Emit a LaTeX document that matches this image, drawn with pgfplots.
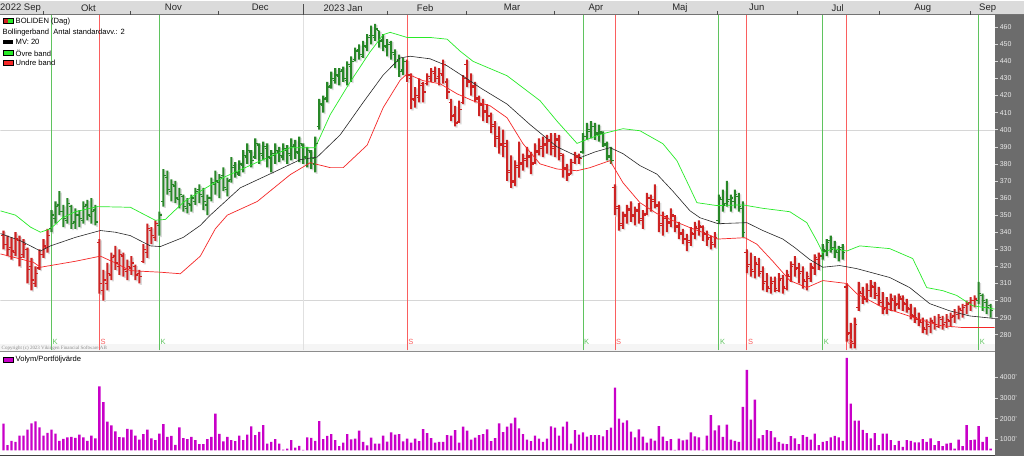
\documentclass[border=0pt]{standalone}
\usepackage{pgfplots}
\usepackage{pgfplotstable}
\pgfplotsset{compat=1.18}
\usepackage{fontspec}
\setmainfont{Liberation Sans}
\newfontfamily\crfont{Liberation Serif}

\definecolor{barGreen}{RGB}{40,135,40}
\definecolor{barRed}{RGB}{205,35,35}
\definecolor{bandGreen}{RGB}{40,235,40}
\definecolor{bandRed}{RGB}{245,40,40}
\definecolor{sigGreen}{RGB}{95,195,95}
\definecolor{sigRed}{RGB}{250,95,95}
\definecolor{volMag}{RGB}{200,0,200}
\definecolor{sideGrey}{RGB}{108,108,108}

% open tick to the left, close tick to the right
\pgfdeclareplotmark{otick}{\pgfpathmoveto{\pgfpoint{-2.6pt}{0pt}}\pgfpathlineto{\pgfpoint{0pt}{0pt}}\pgfusepathqstroke}
\pgfdeclareplotmark{ctick}{\pgfpathmoveto{\pgfpoint{0pt}{0pt}}\pgfpathlineto{\pgfpoint{2.6pt}{0pt}}\pgfusepathqstroke}

\pgfplotsset{
  sidetick/.style={
    axis line style={draw=none}, xtick=\empty,
    ytick pos=right, yticklabel pos=right,
    tick align=outside, major tick length=3.5pt,
    tick style={white!85!black, line width=0.6pt},
    yticklabel style={font=\fontsize{7}{8}\selectfont, text=white!92!black, inner sep=1.5pt},
    /pgf/number format/assume math mode=true,
  },
  pricebox/.style={
    at={(0pt,106pt)}, anchor=south west,
    width=995pt, height=336pt, scale only axis,
    xmin=0, xmax=995, ymin=270.8, ymax=467.3,
  },
  signalmap/.style={
    colormap={signal}{rgb255=(205,35,35) rgb255=(40,135,40)},
    point meta min=0, point meta max=1,
  },
}

% o h l c, s = 1 while the buy signal holds, v = volume
\pgfplotstableread{
o h l c s v
338 341 330 333 0 1757
333 338 326 330 0 722
331 337 324 329 0 931
328 340 326 336 0 883
335 338 320 325 0 1188
327 336 325 333 0 1188
330 331 310 318 0 1477
320 325 306 312 0 1767
310 320 308 316 0 1863
319 330 318 327 0 1574
327 336 325 332 0 1188
331 342 328 338 0 1317
342 353 340 350 1 1477
348 358 345 355 1 1284
356 364 350 352 1 931
352 356 343 348 1 1027
347 360 345 357 1 1092
355 356 342 345 1 1124
346 354 342 350 1 1076
350 353 343 348 1 1236
347 358 345 355 1 1092
356 359 347 350 1 931
349 360 345 352 1 1188
353 356 344 346 1 1044
334 336 304 310 0 3553
306 318 300 312 0 2798
310 322 306 316 0 1853
315 328 312 325 0 1676
326 332 318 322 0 1388
320 330 315 327 0 1108
326 328 314 318 0 1092
317 324 312 320 0 1510
319 326 315 322 0 1477
320 321 312 315 0 1188
316 318 310 314 0 995
323 333 322 330 0 1252
328 345 325 342 0 1477
341 343 333 338 0 1044
337 347 335 345 0 963
344 352 338 350 1 1284
358 377 355 373 1 1734
372 376 362 365 1 1124
364 371 358 368 1 1172
367 370 357 360 1 738
359 366 354 362 1 1574
361 362 352 355 1 1060
354 360 351 357 1 1011
356 362 352 360 1 1124
358 366 356 364 1 963
365 368 357 362 1 770
361 366 353 358 1 770
356 362 350 360 1 1011
360 372 358 369 1 1124
368 376 362 370 1 2247
369 374 360 372 1 1268
373 378 364 366 1 899
365 372 361 370 1 1124
371 384 369 378 1 963
379 381 372 375 1 915
374 382 373 380 1 1188
379 388 375 385 1 963
384 392 380 388 1 1236
387 388 378 382 1 1622
384 395 383 392 1 1204
391 392 380 386 1 1365
385 393 382 390 1 1686
389 392 378 384 1 802
383 388 375 386 1 883
385 392 380 388 1 1011
387 390 381 385 1 802
384 392 382 389 1 513
388 391 380 386 1 561
385 395 382 390 1 963
391 394 383 387 1 609
386 396 381 392 1 690
391 392 380 384 1 497
383 390 378 388 1 1092
387 388 377 383 1 1076
380 396 375 392 1 931
402 418 400 415 1 1879
414 420 410 418 1 1011
419 428 416 425 1 1172
426 434 424 430 1 1252
429 436 427 432 1 963
431 436 426 434 1 674
435 437 428 430 1 843
429 440 426 438 1 1260
437 443 428 440 1 1003
441 448 440 446 1 1035
447 450 441 444 1 1420
443 452 442 449 1 875
448 456 446 454 1 714
455 461 450 455 1 1083
454 462 452 459 1 794
458 458 448 452 1 794
453 456 446 449 1 1180
448 453 443 450 1 891
451 452 441 445 1 1340
444 447 436 440 1 1227
441 444 431 434 1 1260
435 442 432 440 1 907
440 441 428 432 0 1035
430 433 412 418 0 843
417 425 413 420 0 1035
419 430 416 426 0 922
427 428 416 422 0 1500
427 433 426 431 0 1308
430 436 428 434 0 1067
433 437 428 430 0 843
431 436 426 433 0 875
432 441 427 438 0 875
428 430 418 422 0 1212
416 418 405 408 0 1180
409 414 402 404 0 1453
405 417 404 412 0 843
416 432 415 430 0 1613
438 441 425 428 0 1420
429 433 420 425 0 987
426 428 416 419 0 1083
418 420 408 415 0 1212
414 418 405 410 0 1260
411 415 404 408 0 1485
408 410 398 402 0 922
403 405 390 395 0 1067
396 402 386 392 0 1773
391 400 384 390 0 1356
392 394 370 375 0 1613
376 385 366 370 0 1773
369 382 367 378 0 2046
379 393 372 380 0 1533
381 386 376 383 0 1260
382 390 378 384 0 987
385 387 374 380 0 922
381 392 380 388 0 1180
387 395 385 390 0 1035
389 396 384 392 0 875
391 397 386 394 0 1035
393 398 385 389 0 1629
390 398 384 395 0 1565
394 397 382 386 0 1180
385 386 372 378 0 1613
377 380 370 373 0 1854
374 383 374 381 0 794
381 387 380 385 0 1453
384 386 380 383 0 1227
387 398 386 396 1 1340
396 404 394 400 1 1131
399 405 395 402 1 1212
402 404 394 398 1 1212
397 403 393 399 1 1212
398 399 390 392 1 1148
391 393 382 384 1 1453
385 390 380 382 1 1565
366 368 350 355 0 3490
354 356 341 345 0 1998
344 352 342 350 0 1805
349 356 345 353 0 1918
354 358 346 350 0 1372
349 355 344 352 0 1099
353 357 345 348 0 1485
347 353 342 350 0 1131
351 363 350 360 0 843
360 362 352 358 0 1035
359 368 354 356 0 938
355 358 340 345 0 1645
344 352 338 348 0 1131
349 350 340 346 0 922
345 354 343 350 0 1019
349 350 340 344 0 500
343 346 336 340 0 1035
339 342 333 336 0 954
336 339 329 335 0 987
334 343 332 340 0 1340
339 346 336 343 0 1148
342 347 338 344 0 1099
343 344 335 340 0 500
339 341 332 336 0 1180
337 338 330 334 0 2167
333 340 331 337 0 1429
347 362 345 360 1 1670
359 365 352 356 1 1124
357 370 355 358 1 1718
359 362 352 360 1 995
358 365 354 362 1 931
361 363 352 355 1 883
354 358 337 340 1 2568
328 330 316 320 0 4356
321 328 314 318 0 1950
317 326 313 322 0 2911
321 325 314 316 0 1044
317 320 306 310 0 1204
311 316 305 308 0 1445
307 314 304 310 0 1396
311 314 305 307 0 1092
306 316 305 312 0 883
313 315 304 308 0 802
307 318 306 315 0 770
314 323 311 320 0 1156
321 326 314 318 0 1044
319 322 310 316 0 770
317 320 307 312 0 1204
311 317 306 314 0 1124
313 322 311 320 0 995
319 327 315 325 0 1284
324 328 318 326 0 722
326 333 324 330 1 883
329 336 326 334 1 915
335 338 328 330 1 1092
331 335 325 329 1 1172
328 332 323 330 1 1092
331 333 324 328 1 931
308 310 276 280 0 4934
281 287 272 276 0 2718
275 290 272 286 0 1910
296 311 294 305 0 1910
304 308 298 302 0 1461
301 310 299 306 0 1300
306 312 302 309 0 1044
308 311 301 304 0 1300
303 308 297 300 0 722
299 305 292 295 0 1284
296 302 292 299 0 1284
298 304 294 301 0 963
300 303 294 297 0 722
298 304 295 302 0 931
301 303 294 299 0 642
298 301 293 296 0 963
295 298 289 292 0 931
291 296 287 290 0 851
289 293 285 288 0 851
287 290 281 284 0 1011
283 289 280 286 0 883
285 290 281 288 0 1044
287 291 283 286 0 722
285 292 284 290 0 915
289 291 283 286 0 674
287 292 284 289 0 802
288 293 285 290 0 835
291 295 287 293 0 561
292 297 289 295 0 995
294 298 290 296 0 674
297 300 292 298 0 1686
299 302 294 300 0 963
300 303 296 301 0 995
300 311 298 304 1 1638
303 304 294 300 1 883
299 301 292 296 1 1124
297 298 290 294 1 561
}\pricedata

\begin{document}
\begin{tikzpicture}[x=1pt,y=1pt]
\fill[white] (0,0) rectangle (1024,456);
\fill[sideGrey] (995,0) rectangle (1024,442);
\fill[black!14] (0,442) rectangle (1024,456);
\draw[black!55, line width=0.8pt] (0,442.4) -- (1024,442.4);
\fill[black!4] (0,105) rectangle (995,112);
\draw[black!45, line width=0.8pt] (0,105) -- (995,105);
\draw[black!75, line width=1pt] (0,0.5) -- (995,0.5);

% month strip
\foreach \mx in {43,130,218,387,466,554,638,718,798,880,971}
  \draw[black!70, line width=0.8pt] (\mx,442) -- (\mx,445.5);
\draw[black!70, line width=1.3pt] (303,442) -- (303,453);
\begin{scope}[font=\fontsize{9.5}{10}\selectfont, text=black!85]
\node[anchor=west, inner sep=0pt] at (-0.5,449) {2022 Sep};
\node at (88,449) {Okt};
\node at (173,449) {Nov};
\node at (260,449) {Dec};
\node at (343,449) {2023 Jan};
\node at (425,449) {Feb};
\node at (512,449) {Mar};
\node at (596,449) {Apr};
\node at (680,449) {Maj};
\node at (757,449) {Jun};
\node at (838,449) {Jul};
\node at (923,449) {Aug};
\node at (988,449) {Sep};
\end{scope}

% price panel: frame, grid and signal lines
\begin{axis}[pricebox, sidetick, ytick={280,290,...,460}]
\draw[black!16] (axis cs:0,300) -- (axis cs:995,300);
\draw[black!16] (axis cs:0,400) -- (axis cs:995,400);
\draw[black!12] (axis cs:303,270.8) -- (axis cs:303,467.3);
\addplot[sigGreen, line width=0.8pt, unbounded coords=jump] coordinates {
  (51,270.8) (51,467.3) (51,nan)
  (159,270.8) (159,467.3) (159,nan)
  (583,270.8) (583,467.3) (583,nan)
  (719,270.8) (719,467.3) (719,nan)
  (823,270.8) (823,467.3) (823,nan)
  (979,270.8) (979,467.3)
};
\addplot[sigRed, line width=0.8pt, unbounded coords=jump] coordinates {
  (99,270.8) (99,467.3) (99,nan)
  (407,270.8) (407,467.3) (407,nan)
  (615,270.8) (615,467.3) (615,nan)
  (747,270.8) (747,467.3) (747,nan)
  (847,270.8) (847,467.3)
};
\end{axis}

% soft shadow of the bars
\begin{axis}[pricebox, hide axis, ybar stacked, bar width=2.1pt]
\addplot[draw=none, fill=none] table[x expr=4*\coordindex+4.4, y expr=\thisrow{l}-0.8] \pricedata;
\addplot[draw=none, fill=black!14] table[x expr=4*\coordindex+4.4, y expr=\thisrow{h}-\thisrow{l}] \pricedata;
\end{axis}

% high-low ranges: stacked bars, lowest part invisible
\begin{axis}[pricebox, hide axis, ybar stacked, bar width=2.1pt]
\addplot[draw=none, fill=none] table[x expr=4*\coordindex+3, y=l] \pricedata;
\addplot[draw=none, fill=barGreen] table[x expr=4*\coordindex+3, y expr=\thisrow{s}*(\thisrow{h}-\thisrow{l})] \pricedata;
\addplot[draw=none, fill=barRed] table[x expr=4*\coordindex+3, y expr=(1-\thisrow{s})*(\thisrow{h}-\thisrow{l})] \pricedata;
\end{axis}

% open / close ticks, bands, signal letters
\begin{axis}[pricebox, hide axis, signalmap]
\addplot[scatter, only marks, mark=otick, point meta=\thisrow{s},
  scatter/use mapped color={draw=mapped color, fill=mapped color},
  mark options={line width=1.3pt}]
  table[x expr=4*\coordindex+3, y=o] \pricedata;
\addplot[scatter, only marks, mark=ctick, point meta=\thisrow{s},
  scatter/use mapped color={draw=mapped color, fill=mapped color},
  mark options={line width=1.3pt}]
  table[x expr=4*\coordindex+3, y=c] \pricedata;

% MV 20
\addplot[black!85, line width=0.6pt] coordinates {
(0,339.2)(20,335)(40,329)(50,332)(75,337)(100,341)(115,340)(130,338)(150,332)(160,331.6)
(183,337)(200,344)(210,350)(240,366)(273,375)(300,382.5)(317,384)(340,397)(363,416)(383,432)
(400,442)(410,443)(430,441.5)(447,437.4)(467,429.8)(480,424.6)(507,415)(530,403)(557,390)(580,383.6)
(595,387)(610,389.5)(623,386)(640,379)(657,374)(673,364)(690,352.6)(700,348.5)(718,345)(747,345.6)
(763,341)(783,336)(795,331)(810,324)(823,319.5)(840,320.5)(857,318.7)(890,313.5)(910,307.6)(930,298.2)
(950,294)(970,291)(995,289.5)
};
% upper band
\addplot[bandGreen, line width=0.7pt] coordinates {
(0,352.5)(15,350)(30,343)(40,340)(50,342)(62,348.5)(75,352)(97,355)(130,354.6)(145,350)
(155,347)(165,347.5)(183,357.5)(200,364)(223,372)(257,381)(290,389.5)(315,389.5)(330,408.8)(350,428)
(370,445.6)(383,455.6)(390,457)(407,454)(430,454)(447,453)(460,446)(473,440)(507,431.6)(540,417)
(557,405)(577,392)(590,395)(603,397.7)(623,400.6)(640,399.4)(663,391.8)(677,381.9)(690,366)(697,357.3)
(717,355.6)(743,356)(763,354)(790,352)(807,345.6)(817,335)(823,328)(833,330.4)(847,329)(860,332)
(890,330.4)(913,324.6)(927,307.6)(943,305.8)(957,303)(973,297)(995,295)
};
% lower band
\addplot[bandRed, line width=0.7pt] coordinates {
(0,327.3)(33,322.4)(40,319.5)(50,320.5)(75,323)(100,326)(115,322)(130,317.5)(160,316.6)(180,315.7)
(200,326)(215,342)(227,350)(257,358)(290,373.7)(310,380.7)(330,377.8)(343,377.8)(367,391)(383,412.9)
(400,429)(407,432.7)(423,428.7)(440,426.9)(457,421)(473,416.9)(490,414)(507,407)(523,391.8)(540,380)
(557,377)(577,376)(590,377.8)(610,381.9)(623,369)(640,357.3)(657,350.9)(673,346.8)(690,342.7)(707,339)
(718,336)(745,336.8)(757,333)(773,323)(790,311.7)(807,307.6)(823,311.7)(847,310)(857,304)(883,296)
(917,289.5)(940,285.4)(963,284.2)(995,284.2)
};

\node[anchor=west, text=sigGreen, inner sep=1pt, font=\fontsize{7.5}{8}\selectfont] at (axis cs:51,276) {K};
\node[anchor=west, text=sigGreen, inner sep=1pt, font=\fontsize{7.5}{8}\selectfont] at (axis cs:159,276) {K};
\node[anchor=west, text=sigGreen, inner sep=1pt, font=\fontsize{7.5}{8}\selectfont] at (axis cs:583,276) {K};
\node[anchor=west, text=sigGreen, inner sep=1pt, font=\fontsize{7.5}{8}\selectfont] at (axis cs:719,276) {K};
\node[anchor=west, text=sigGreen, inner sep=1pt, font=\fontsize{7.5}{8}\selectfont] at (axis cs:823,276) {K};
\node[anchor=west, text=sigGreen, inner sep=1pt, font=\fontsize{7.5}{8}\selectfont] at (axis cs:979,276) {K};
\node[anchor=west, text=sigRed, inner sep=1pt, font=\fontsize{7.5}{8}\selectfont] at (axis cs:99,276) {S};
\node[anchor=west, text=sigRed, inner sep=1pt, font=\fontsize{7.5}{8}\selectfont] at (axis cs:407,276) {S};
\node[anchor=west, text=sigRed, inner sep=1pt, font=\fontsize{7.5}{8}\selectfont] at (axis cs:615,276) {S};
\node[anchor=west, text=sigRed, inner sep=1pt, font=\fontsize{7.5}{8}\selectfont] at (axis cs:747,276) {S};
\node[anchor=west, text=sigRed, inner sep=1pt, font=\fontsize{7.5}{8}\selectfont] at (axis cs:847,276) {S};
\end{axis}

% volume panel
\begin{axis}[
  at={(0pt,6pt)}, anchor=south west,
  width=995pt, height=98pt, scale only axis,
  xmin=0, xmax=995, ymin=472, ymax=5190,
  sidetick,
  ytick={1000,2000,3000,4000},
  yticklabels={1000',2000',3000',4000'},
  ybar, bar width=2.4pt,
]
\addplot[fill=volMag, draw=none] table[x expr=4*\coordindex+3, y=v] \pricedata;
\end{axis}

% legends
\begin{scope}[font=\fontsize{7.6}{9}\selectfont]
\fill[barRed] (3,433.5) rectangle (8,438);
\fill[bandGreen] (8,433.5) rectangle (13,438);
\draw[black, line width=0.5pt] (3,433.5) rectangle (13,438);
\node[anchor=west, inner sep=0pt] at (15,435.5) {BOLIDEN (Dag)};
\node[anchor=west, inner sep=0pt] at (2,424.5) {Bollingerband\ \ Antal standardavv.: 2};
\fill[black] (3,412.5) rectangle (13,417);
\node[anchor=west, inner sep=0pt] at (15,414.5) {MV: 20};
\fill[bandGreen] (3,401.5) rectangle (13,406);
\draw[black, line width=0.5pt] (3,401.5) rectangle (13,406);
\node[anchor=west, inner sep=0pt] at (15,403.7) {Övre band};
\fill[bandRed] (3,391.5) rectangle (13,396);
\draw[black, line width=0.5pt] (3,391.5) rectangle (13,396);
\node[anchor=west, inner sep=0pt] at (15,393.7) {Undre band};
\fill[volMag] (3,94.5) rectangle (13,99);
\draw[black, line width=0.5pt] (3,94.5) rectangle (13,99);
\node[anchor=west, inner sep=0pt] at (15,96.8) {Volym/Portföljvärde};
\end{scope}
\node[anchor=west, inner sep=0pt, text=black!45, font=\crfont\fontsize{5}{6}\selectfont] at (1,107.8) {Copyright (c) 2023 Vikingen Financial Software AB};
\end{tikzpicture}
\end{document}
